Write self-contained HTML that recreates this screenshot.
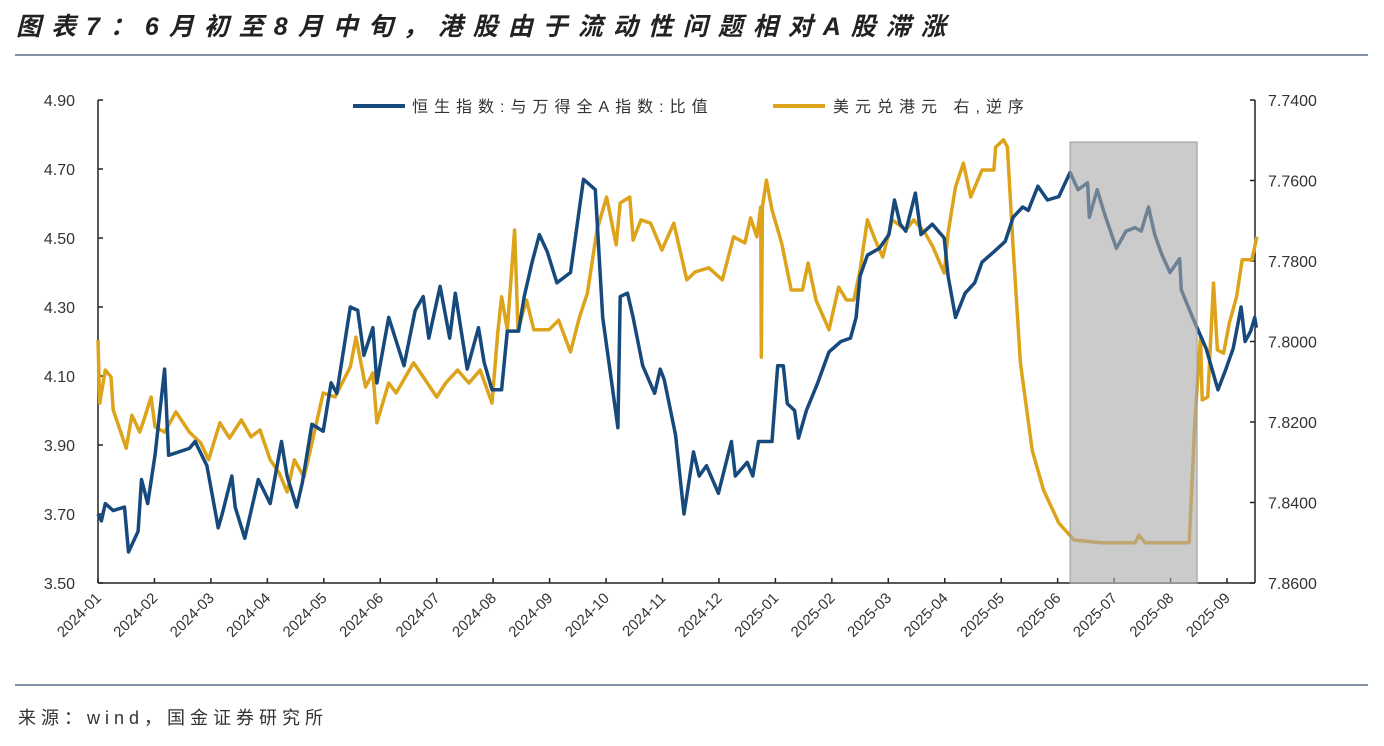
<!DOCTYPE html>
<html><head><meta charset="utf-8">
<style>
html,body{margin:0;padding:0;background:#fff;}
body{width:1384px;height:746px;overflow:hidden;position:relative;font-family:"Liberation Sans","Noto Sans CJK SC",sans-serif;}
#title{position:absolute;left:16px;top:7px;font-size:25px;font-weight:bold;font-style:italic;color:#222;letter-spacing:10px;white-space:nowrap;}
#source{position:absolute;left:18px;top:704px;font-size:18px;color:#333;letter-spacing:5px;white-space:nowrap;}
svg{position:absolute;left:0;top:0;}
</style></head>
<body>
<div id="title">图表7：6月初至8月中旬，港股由于流动性问题相对A股滞涨</div>
<svg id="chart" width="1384" height="746">
  <line x1="15" y1="55" x2="1368" y2="55" stroke="#5a6f86" stroke-width="1.5"/>
  <line x1="15" y1="685" x2="1368" y2="685" stroke="#5a6f86" stroke-width="1.5"/>
  <g id="axes"></g>
  <g id="series"></g>
  <g id="legend">
    <line x1="353" y1="106" x2="405" y2="106" stroke="#174a7c" stroke-width="4"/>
    <text x="412" y="112" font-size="16" letter-spacing="6" fill="#333" font-family="Liberation Sans, Noto Sans CJK SC, sans-serif">恒生指数:与万得全A指数:比值</text>
    <line x1="773" y1="106" x2="825" y2="106" stroke="#dca31b" stroke-width="4"/>
    <text x="833" y="112" font-size="16" letter-spacing="6" fill="#333" font-family="Liberation Sans, Noto Sans CJK SC, sans-serif">美元兑港元 右,逆序</text>
  </g>
</svg>
<div id="source">来源：wind，国金证券研究所</div>
<script>
const monthLabels=["2024-01","2024-02","2024-03","2024-04","2024-05","2024-06","2024-07","2024-08","2024-09","2024-10","2024-11","2024-12","2025-01","2025-02","2025-03","2025-04","2025-05","2025-06","2025-07","2025-08","2025-09"];
const leftTicks=[3.50,3.70,3.90,4.10,4.30,4.50,4.70,4.90];
const rightTicks=[7.74,7.76,7.78,7.80,7.82,7.84,7.86];
const shadeRange=[17.22,19.47];
const blueT=[0,0.06,0.13,0.27,0.47,0.54,0.71,0.77,0.88,1.01,1.18,1.25,1.62,1.72,1.93,2.03,2.13,2.20,2.37,2.43,2.60,2.84,3.05,3.25,3.35,3.52,3.62,3.79,3.99,4.13,4.23,4.47,4.60,4.71,4.87,4.94,5.15,5.42,5.62,5.76,5.86,6.06,6.23,6.33,6.54,6.74,6.84,6.98,7.15,7.25,7.45,7.55,7.69,7.82,7.96,8.13,8.37,8.60,8.81,8.94,9.21,9.25,9.38,9.48,9.65,9.86,9.96,10.03,10.23,10.38,10.55,10.65,10.78,10.99,11.22,11.29,11.50,11.60,11.70,11.94,12.04,12.14,12.21,12.34,12.41,12.55,12.75,12.95,13.16,13.33,13.43,13.50,13.63,13.84,14.01,14.11,14.21,14.31,14.48,14.58,14.78,14.99,15.06,15.19,15.36,15.53,15.66,15.87,16.07,16.21,16.38,16.48,16.65,16.82,17.02,17.22,17.36,17.53,17.56,17.70,17.83,18.04,18.21,18.37,18.48,18.61,18.72,18.85,18.99,19.16,19.19,19.39,19.63,19.77,19.84,19.98,20.11,20.25,20.32,20.42,20.49,20.52];
const blueV=[3.70,3.68,3.73,3.71,3.72,3.59,3.65,3.80,3.73,3.87,4.12,3.87,3.89,3.91,3.84,3.75,3.66,3.70,3.81,3.72,3.63,3.80,3.73,3.91,3.81,3.72,3.79,3.96,3.94,4.08,4.05,4.30,4.29,4.16,4.24,4.08,4.27,4.13,4.29,4.33,4.21,4.36,4.21,4.34,4.12,4.24,4.14,4.06,4.06,4.23,4.23,4.33,4.43,4.51,4.46,4.37,4.40,4.67,4.64,4.27,3.95,4.33,4.34,4.27,4.13,4.05,4.12,4.09,3.93,3.70,3.88,3.81,3.84,3.76,3.91,3.81,3.85,3.81,3.91,3.91,4.13,4.13,4.02,4.00,3.92,4.00,4.08,4.17,4.20,4.21,4.27,4.39,4.45,4.47,4.51,4.61,4.54,4.52,4.63,4.51,4.54,4.50,4.39,4.27,4.34,4.37,4.43,4.46,4.49,4.56,4.59,4.58,4.65,4.61,4.62,4.69,4.64,4.66,4.56,4.64,4.57,4.47,4.52,4.53,4.52,4.59,4.51,4.45,4.40,4.44,4.35,4.27,4.18,4.10,4.06,4.12,4.18,4.30,4.20,4.23,4.27,4.24];
const orangeT=[0,0.03,0.13,0.23,0.27,0.50,0.60,0.74,0.84,0.94,1.01,1.18,1.38,1.62,1.82,1.96,2.16,2.33,2.54,2.71,2.87,3.05,3.21,3.35,3.48,3.65,3.76,3.99,4.20,4.47,4.57,4.74,4.87,4.94,5.15,5.28,5.59,5.76,6.00,6.16,6.37,6.57,6.77,6.98,7.08,7.15,7.25,7.38,7.44,7.59,7.72,7.99,8.16,8.37,8.53,8.67,8.84,9.01,9.18,9.25,9.42,9.48,9.62,9.79,9.99,10.20,10.43,10.58,10.82,11.06,11.26,11.46,11.56,11.67,11.74,11.75,11.77,11.84,11.94,12.11,12.28,12.48,12.58,12.72,12.95,13.12,13.26,13.39,13.50,13.63,13.77,13.90,14.07,14.31,14.45,14.65,14.79,14.99,15.06,15.19,15.33,15.46,15.66,15.87,15.90,16.04,16.11,16.21,16.34,16.55,16.75,17.02,17.29,17.76,18.37,18.44,18.55,19.33,19.43,19.53,19.56,19.66,19.76,19.83,19.94,20.04,20.17,20.27,20.44,20.53];
const orangeV=[7.7996,7.8153,7.8071,7.8088,7.8170,7.8265,7.8183,7.8225,7.8183,7.8138,7.8212,7.8225,7.8175,7.8225,7.8252,7.8294,7.8202,7.8240,7.8195,7.8237,7.8220,7.8294,7.8327,7.8374,7.8294,7.8337,7.8270,7.8128,7.8138,7.8063,7.7989,7.8113,7.8078,7.8202,7.8103,7.8128,7.8053,7.8088,7.8138,7.8103,7.8071,7.8103,7.8071,7.8153,7.7979,7.7889,7.7971,7.7723,7.7971,7.7897,7.7971,7.7971,7.7947,7.8026,7.7939,7.7880,7.7723,7.7641,7.7760,7.7656,7.7641,7.7748,7.7698,7.7706,7.7773,7.7706,7.7847,7.7827,7.7817,7.7847,7.7740,7.7755,7.7693,7.7740,7.7666,7.8039,7.7666,7.7599,7.7673,7.7755,7.7872,7.7872,7.7805,7.7897,7.7971,7.7865,7.7897,7.7897,7.7822,7.7698,7.7748,7.7790,7.7698,7.7723,7.7698,7.7730,7.7765,7.7830,7.7730,7.7616,7.7557,7.7641,7.7574,7.7574,7.7517,7.7499,7.7517,7.7765,7.8053,7.8270,7.8369,7.8451,7.8493,7.8500,7.8500,7.8481,7.8500,7.8500,7.8202,7.7989,7.8145,7.8138,7.7855,7.8021,7.8029,7.7954,7.7889,7.7797,7.7797,7.7740];

const NS="http://www.w3.org/2000/svg";
const X0=98,X1=1255,Y0=100,Y1=583,MW=56.45;
function xs(t){return X0+t*MW;}
function yl(v){return Y1-(v-3.5)/1.4*(Y1-Y0);}
function yr(v){return Y0+(v-7.74)/0.12*(Y1-Y0);}
function mk(tag,attrs,parent){const e=document.createElementNS(NS,tag);for(const k in attrs)e.setAttribute(k,attrs[k]);parent.appendChild(e);return e;}
const axes=document.getElementById('axes'),ser=document.getElementById('series');
const F="Liberation Sans, sans-serif";
let e;
e=mk('line',{x1:X0,y1:Y0,x2:X0,y2:Y1,stroke:'#222','stroke-width':1.5},axes);


e=mk('line',{x1:X1,y1:Y0,x2:X1,y2:Y1,stroke:'#222','stroke-width':1.5},axes);


e=mk('line',{x1:X0,y1:Y1,x2:X1,y2:Y1,stroke:'#222','stroke-width':1.5},axes);


leftTicks.forEach(v=>{const y=yl(v);
 e=mk('line',{x1:X0,y1:y,x2:X0+5,y2:y,stroke:'#222','stroke-width':1.5},axes);
 
 
 e=mk('text',{x:75,y:y+6,'text-anchor':'end','font-size':16,fill:'#333','font-family':F},axes);e.textContent=v.toFixed(2);
 
 
});
rightTicks.forEach(v=>{const y=yr(v);
 e=mk('line',{x1:X1-5,y1:y,x2:X1,y2:y,stroke:'#222','stroke-width':1.5},axes);
 
 
 e=mk('text',{x:1268,y:y+6,'font-size':16,fill:'#333','font-family':F},axes);e.textContent=v.toFixed(4);
 
 
});
monthLabels.forEach((m,i)=>{const x=xs(i);
 e=mk('line',{x1:x,y1:Y1,x2:x,y2:Y1-5,stroke:'#222','stroke-width':1.5},axes);
 
 
 e=mk('text',{x:x+4,y:Y1+16,'text-anchor':'end','font-size':15,fill:'#333','font-family':F,transform:`rotate(-45 ${x+4} ${Y1+16})`},axes);e.textContent=m;
 
 
});
function path(T,V,fy){return T.map((t,i)=>(i?'L':'M')+xs(t).toFixed(1)+','+fy(V[i]).toFixed(1)).join(' ');}
e=mk('path',{d:path(orangeT,orangeV,yr),fill:'none',stroke:'#dca31b','stroke-width':3.5,'stroke-linejoin':'round'},ser);


e=mk('path',{d:path(blueT,blueV,yl),fill:'none',stroke:'#174a7c','stroke-width':3.5,'stroke-linejoin':'round'},ser);


e=mk('rect',{x:xs(shadeRange[0]),y:142,width:xs(shadeRange[1])-xs(shadeRange[0]),height:Y1-142,fill:'#a8a8a8','fill-opacity':0.6,stroke:'#999','stroke-width':1},ser);


</script>
</body></html>
